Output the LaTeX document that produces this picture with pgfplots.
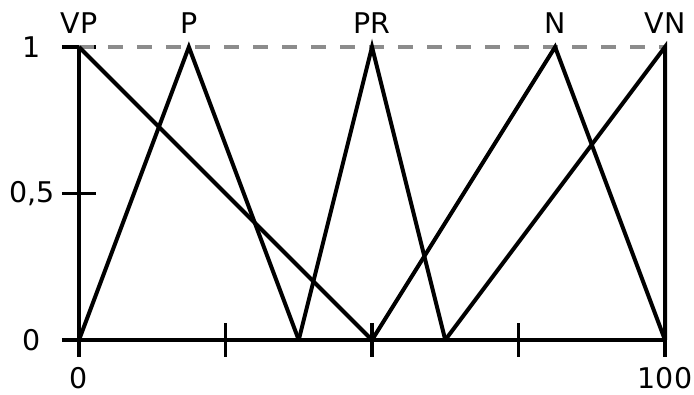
\documentclass[border=0pt]{standalone}
\usepackage{fontspec}
\setmainfont{DejaVu Sans}
\usepackage{pgfplots}
\pgfplotsset{compat=1.18}
\begin{document}
\begin{tikzpicture}
\begin{axis}[
  scale only axis, width=586pt, height=293pt,
  xmin=0, xmax=100, ymin=0, ymax=1,
  axis lines=left, axis line style={-, line width=4pt},
  clip=false,
  xtick={0,25,50,75,100}, xticklabels={0,,,,100},
  ytick={0,0.5,1}, yticklabels={0,{0,5},1},
  tick align=center, major tick length=34pt,
  tick style={black, line width=3.5pt},
  /pgf/number format/assume math mode=true,
  ticklabel style={font=\fontsize{28.5}{34}\selectfont},
  yticklabel style={anchor=center, xshift=-30pt},
  xticklabel style={anchor=center, yshift=-21pt},
]
\addplot[gray!90, line width=4pt, dash pattern=on 15pt off 14pt] coordinates {(0,1) (100,1)};
\addplot[black, line width=4pt] coordinates {(0,1) (50,0)};
\addplot[black, line width=4pt] coordinates {(0,0) (18.75,1) (37.5,0)};
\addplot[black, line width=4pt] coordinates {(37.5,0) (50,1) (62.5,0)};
\addplot[black, line width=4pt] coordinates {(50,0) (81.25,1) (100,0)};
\addplot[black, line width=4pt] coordinates {(62.5,0) (100,1) (100,0)};
\coordinate (o) at (axis cs:0,0);
\foreach \x/\t in {0/VP,18.75/P,50/PR,81.25/N,100/VN}{
  \edef\tmp{\noexpand\node[anchor=south, inner sep=0pt, yshift=13pt, font=\noexpand\fontsize{28.5}{34}\noexpand\selectfont] at (axis cs:\x,1) {\t};}
  \tmp
}
\end{axis}
\pgfresetboundingbox
\path (o) ++(-79pt,-55pt) rectangle ++(694pt,395pt);
\end{tikzpicture}
\end{document}
